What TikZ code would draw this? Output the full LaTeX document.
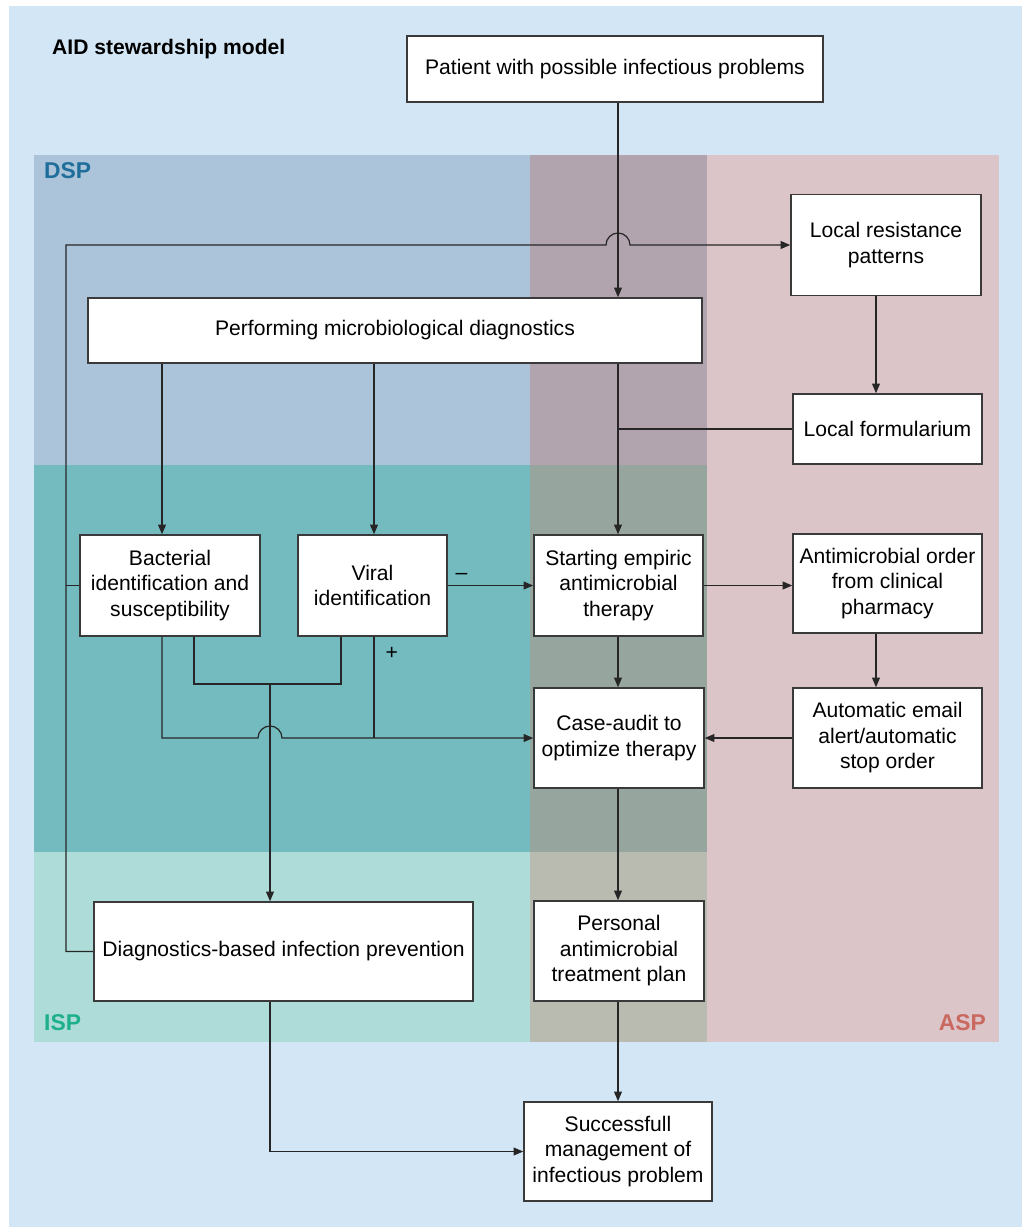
\documentclass[tikz,border=0pt]{standalone}
\usepackage{fontspec}
\setmainfont{Liberation Sans}
\usepackage{tikz}
\usetikzlibrary{arrows.meta, calc}
\definecolor{aidbg}{HTML}{D3E6F5}
\definecolor{dspfill}{HTML}{ABC4D9}
\definecolor{dspasp}{HTML}{B1A4AE}
\definecolor{aspfill}{HTML}{DCC5C8}
\definecolor{midteal}{HTML}{74BBBF}
\definecolor{midasp}{HTML}{96A59E}
\definecolor{ispfill}{HTML}{AEDCD8}
\definecolor{ispasp}{HTML}{BABBB0}
\definecolor{dsptext}{HTML}{1F6D9A}
\definecolor{isptext}{HTML}{1DB08A}
\definecolor{asptext}{HTML}{C9695F}
\definecolor{boxline}{HTML}{3A3A3A}

\begin{document}
\begin{tikzpicture}[x=0.02cm, y=-0.02cm,
  box/.style={draw=boxline, line width=0.9pt, fill=white, align=center, inner sep=0pt, font=\fontsize{12}{14.5}\selectfont},
  arr/.style={-{Triangle[length=5.5pt, width=4.5pt]}},
  link/.style={draw=black!85, line width=0.7pt},
  zone/.style={font=\fontsize{13}{15}\selectfont\bfseries}]
 \useasboundingbox (0,0) rectangle (1022,1227);
 \fill[white] (0,0) rectangle (1022,1227);
 \fill[aidbg] (9,6) rectangle (1022,1227);
 \fill[dspfill] (34,155) rectangle (530,465);
 \fill[dspasp] (530,155) rectangle (707,465);
 \fill[aspfill] (707,155) rectangle (999,1042);
 \fill[midteal] (34,465) rectangle (530,852);
 \fill[midasp] (530,465) rectangle (707,852);
 \fill[ispfill] (34,852) rectangle (530,1042);
 \fill[ispasp] (530,852) rectangle (707,1042);

 \node[anchor=west, font=\fontsize{12}{14.5}\selectfont\bfseries] (title) at (46,49) {AID stewardship model};
 \node[zone, text=dsptext, anchor=west] (dsp) at (38,171) {DSP};
 \node[zone, text=isptext, anchor=west] (isp) at (38,1023) {ISP};
 \node[zone, text=asptext, anchor=east] (asp) at (992,1023) {ASP};

 \node[box, minimum width=8.32cm, minimum height=1.32cm] (patient) at (615,69) {Patient with possible infectious problems};
 \node[box, minimum width=3.8cm, minimum height=2.02cm] (resist) at (886,245) {Local resistance\\patterns};
 \node[box, minimum width=12.28cm, minimum height=1.3cm] (micro) at (395,330.5) {Performing microbiological diagnostics};
 \node[box, minimum width=3.78cm, minimum height=1.4cm] (formul) at (887.5,429) {Local formularium};
 \node[box, minimum width=3.6cm, minimum height=2.02cm] (bact) at (170,585.5) {Bacterial\\identification and\\susceptibility};
 \node[box, minimum width=2.98cm, minimum height=2.02cm] (viral) at (372.5,585.5) {Viral\\identification};
 \node[box, minimum width=3.38cm, minimum height=2.02cm] (empiric) at (618.5,585.5) {Starting empiric\\antimicrobial\\therapy};
 \node[box, minimum width=3.78cm, minimum height=1.98cm] (order) at (887.5,583.5) {Antimicrobial order\\from clinical\\pharmacy};
 \node[box, minimum width=3.4cm, minimum height=2cm] (audit) at (619,738) {Case-audit to\\optimize therapy};
 \node[box, minimum width=3.78cm, minimum height=2cm] (email) at (887.5,738) {Automatic email\\alert/automatic\\stop order};
 \node[box, minimum width=7.58cm, minimum height=1.98cm] (prevent) at (283.5,951.5) {Diagnostics-based infection prevention};
 \node[box, minimum width=3.4cm, minimum height=2cm] (plan) at (619,951) {Personal\\antimicrobial\\treatment plan};
 \node[box, minimum width=3.76cm, minimum height=1.98cm] (success) at (618,1151.5) {Successfull\\management of\\infectious problem};

 \coordinate (lp) at (66,0);
 \coordinate (b1) at (162,0);
 \coordinate (b2) at (194,0);
 \coordinate (v1) at (341,0);
 \coordinate (v2) at (374,0);
 \coordinate (mid) at (618,0);
 \coordinate (rc) at (876,0);
 \coordinate (join) at (270,684);

 \draw[link, arr] (patient.south -| mid) -- (micro.north -| mid);
 \draw[link, arr] (prevent.west) -| (lp |- resist.west) -- ($(mid |- resist.west)+(-12,0)$) arc[start angle=180, end angle=0, radius=0.24cm] -- (resist.west);
 \draw[link] (bact.west) -- (lp |- bact.west);
 \draw[link, arr] (resist.south -| rc) -- (formul.north -| rc);
 \draw[link] (formul.west) -- (formul.west -| mid);
 \draw[link, arr] (micro.south -| mid) -- (empiric.north -| mid);
 \draw[link, arr] (micro.south -| b1) -- (bact.north -| b1);
 \draw[link, arr] (micro.south -| v2) -- (viral.north -| v2);
 \draw[link, arr] (viral.east) -- (empiric.west) node[pos=0.16, above=0pt, font=\fontsize{12}{14.5}\selectfont] {\textendash};
 \draw[link, arr] (empiric.east) -- (order.west |- empiric.east);
 \draw[link, arr] (order.south -| rc) -- (email.north -| rc);
 \draw[link, arr] (email.west) -- (audit.east);
 \draw[link, arr] (empiric.south -| mid) -- (audit.north -| mid);
 \draw[link] (bact.south -| b2) |- (join) -| (viral.south -| v1);
 \draw[link, arr] (join) -- (prevent.north -| join);
 \draw[link, arr] (bact.south -| b1) |- ($(join |- audit.west)+(-12,0)$) arc[start angle=180, end angle=0, radius=0.24cm] -- (audit.west);
 \draw[link] (viral.south -| v2) -- (v2 |- audit.west) node[pos=0.16, right=3pt, font=\fontsize{12}{14.5}\selectfont] {+};
 \draw[link, arr] (audit.south -| mid) -- (plan.north -| mid);
 \draw[link, arr] (plan.south -| mid) -- (success.north -| mid);
 \draw[link, arr] (prevent.south -| join) |- (success.west);
\end{tikzpicture}
\end{document}
